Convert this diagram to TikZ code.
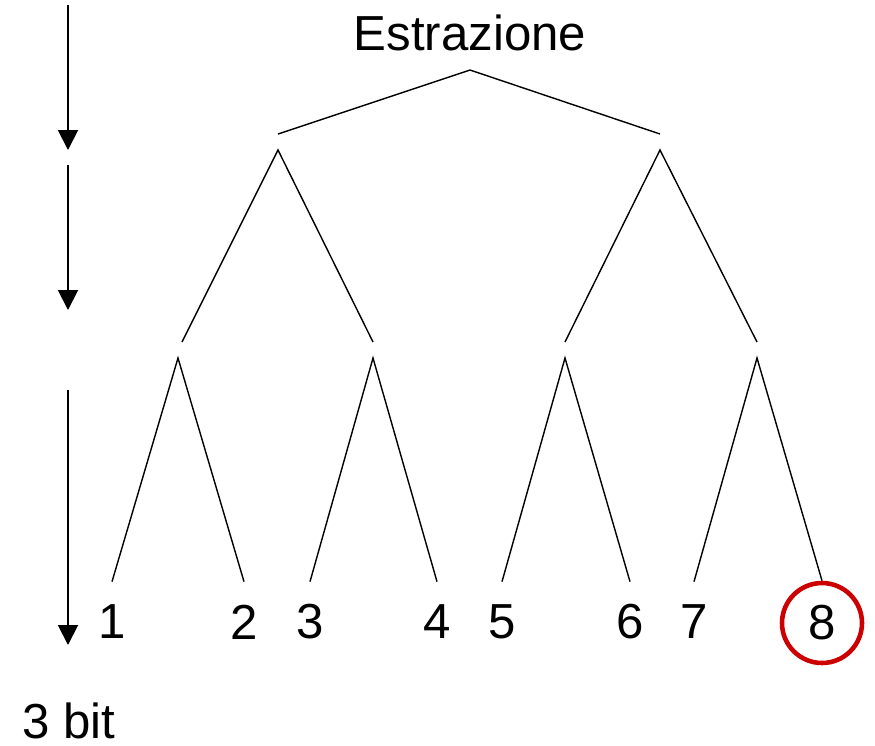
\documentclass[tikz,border=0pt]{standalone}
\usepackage{fontspec}
\setmainfont{Liberation Sans}
\usepackage{xcolor}
\usepackage{tikz}
\usetikzlibrary{arrows.meta}

\definecolor{ringred}{HTML}{CC0000}

\begin{document}
\begin{tikzpicture}[x=0.02cm,y=-0.02cm,
    txt/.style={font=\fontsize{28}{34}\selectfont},
    leaf/.style={txt,circle,minimum size=1.6cm,inner sep=0pt},
    branch/.style={line width=0.8pt},
    levelarrow/.style={line width=1.1pt,-{Triangle[width=0.4cm,length=0.4cm]}}]
  \useasboundingbox (0,0) rectangle (875,745);

  % the title and the first split:
  \node[txt] (root) at (470,33) {Estrazione};
  \coordinate (r) at (470,70);
  \coordinate (rl) at (278,134);
  \coordinate (rr) at (660,134);
  \draw[branch] (rl) -- (r) -- (rr);

  % second split:
  \coordinate (a) at (278,150);
  \coordinate (b) at (660,150);
  \coordinate (a1) at (182,342);
  \coordinate (a2) at (373,342);
  \coordinate (b1) at (565,342);
  \coordinate (b2) at (757,342);
  \draw[branch] (a1) -- (a) -- (a2);
  \draw[branch] (b1) -- (b) -- (b2);

  % third split and the leaves:
  \foreach \i/\x in {1/178,2/373,3/565,4/757}
    \coordinate (p\i) at (\x,358);
  \foreach \n/\x in {1/112,2/244,3/310,4/437,5/502,6/630,7/694}
    \node[leaf] (n\n) at (\x,622) {\n};
  \node[leaf,draw=ringred,line width=2.6pt] (n8) at (822,623) {8};
  \foreach \i/\l/\r in {1/1/2,2/3/4,3/5/6,4/7/8}
    \draw[branch] (n\l.north) -- (p\i) -- (n\r.north);

  % one arrow per bit:
  \coordinate (s1) at (68,5);
  \coordinate (e1) at (68,150);
  \coordinate (s2) at (68,165);
  \coordinate (e2) at (68,310);
  \coordinate (s3) at (68,390);
  \coordinate (e3) at (68,645);
  \foreach \i in {1,2,3}
    \draw[levelarrow] (s\i) -- (e\i);

  \node[txt,anchor=base west,inner sep=0pt] (bits) at (22,738) {3 bit};
\end{tikzpicture}
\end{document}
